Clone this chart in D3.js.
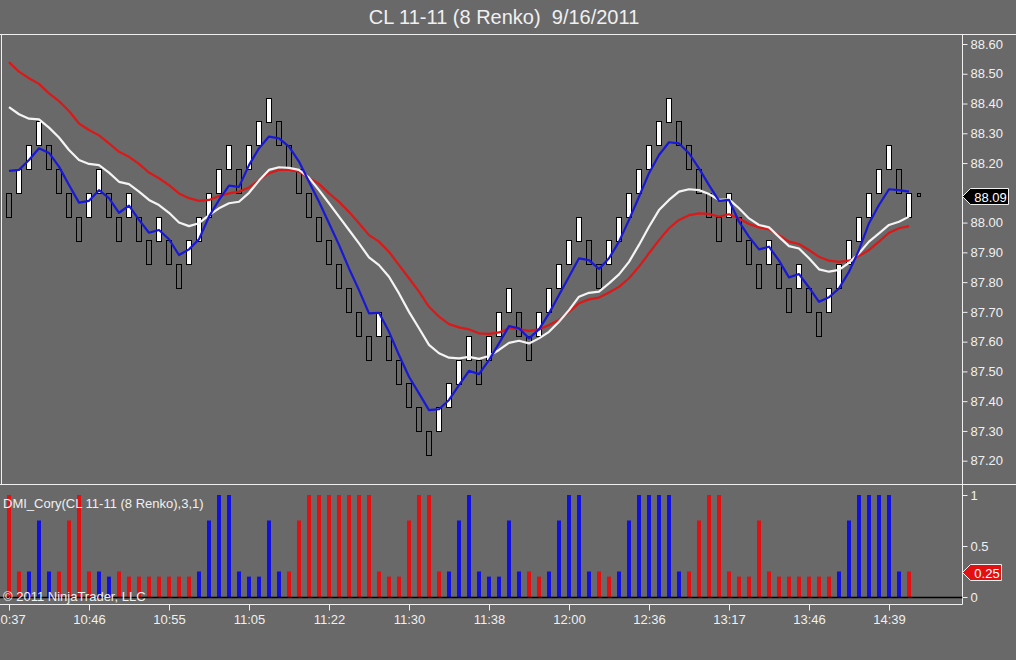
<!DOCTYPE html>
<html>
<head>
<meta charset="utf-8">
<script src="https://cdn.jsdelivr.net/npm/d3@7"></script>
<style>
    body { margin: 0; background: #696969; overflow: hidden; }
    text { font-family: "Liberation Sans", Arial, sans-serif; fill: #f0f0f0; }
</style>
</head>
<body>
<div id="chart"></div>
<script>
const chartTitle = 'CL 11-11 (8 Renko)  9/16/2011';
const indicatorName = 'DMI_Cory(CL 11-11 (8 Renko),3,1)';
const copyright = '\u00a9 2011 NinjaTrader, LLC';

// x axis: one label every 8 bricks
const timeTickIdx = [0, 8, 16, 24, 32, 40, 48, 56, 64, 72, 80, 88];
const timeLabels = ['10:37', '10:46', '10:55', '11:05', '11:22', '11:30', '11:38', '12:00', '12:36', '13:17', '13:46', '14:39'];

const priceTicks = [87.2, 87.3, 87.4, 87.5, 87.6, 87.7, 87.8, 87.9, 88.0, 88.1, 88.2, 88.3, 88.4, 88.5, 88.6];
const dmiTicks = [0, 0.5, 1];

// renko bricks
const opens = [
    88.10, 88.10, 88.18, 88.26, 88.26, 88.18, 88.10, 88.02, 88.02, 88.10,
    88.10, 88.02, 88.02, 88.02, 87.94, 87.94, 87.94, 87.86, 87.86, 87.94,
    88.02, 88.10, 88.18, 88.18, 88.18, 88.26, 88.34, 88.34, 88.26, 88.18,
    88.10, 88.02, 87.94, 87.86, 87.78, 87.70, 87.62, 87.62, 87.62, 87.54,
    87.46, 87.38, 87.30, 87.30, 87.38, 87.46, 87.54, 87.54, 87.54, 87.62,
    87.70, 87.70, 87.62, 87.62, 87.70, 87.78, 87.86, 87.94, 87.94, 87.86,
    87.86, 87.94, 88.02, 88.10, 88.18, 88.26, 88.34, 88.34, 88.26, 88.18,
    88.10, 88.02, 88.02, 88.02, 87.94, 87.86, 87.86, 87.86, 87.78, 87.78,
    87.78, 87.70, 87.70, 87.78, 87.86, 87.94, 88.02, 88.10, 88.18, 88.18,
    88.02
];
const closes = [
    88.02, 88.18, 88.26, 88.34, 88.18, 88.10, 88.02, 87.94, 88.10, 88.18,
    88.02, 87.94, 88.10, 87.94, 87.86, 88.02, 87.86, 87.78, 87.94, 88.02,
    88.10, 88.18, 88.26, 88.10, 88.26, 88.34, 88.42, 88.26, 88.18, 88.10,
    88.02, 87.94, 87.86, 87.78, 87.70, 87.62, 87.54, 87.70, 87.54, 87.46,
    87.38, 87.30, 87.22, 87.38, 87.46, 87.54, 87.62, 87.46, 87.62, 87.70,
    87.78, 87.62, 87.54, 87.70, 87.78, 87.86, 87.94, 88.02, 87.86, 87.78,
    87.94, 88.02, 88.10, 88.18, 88.26, 88.34, 88.42, 88.26, 88.18, 88.10,
    88.02, 87.94, 88.10, 87.94, 87.86, 87.78, 87.94, 87.78, 87.70, 87.86,
    87.70, 87.62, 87.78, 87.86, 87.94, 88.02, 88.10, 88.18, 88.26, 88.10,
    88.10
];
// brick still forming
const formingOpen = 88.10;
const formingClose = 88.09;
const lastPrice = 88.09;

// moving averages
const maFast = [
    88.174, 88.177, 88.210, 88.250, 88.234, 88.188, 88.126, 88.067, 88.073, 88.109,
    88.082, 88.033, 88.057, 88.009, 87.966, 87.975, 87.944, 87.891, 87.910, 87.944,
    88.020, 88.076, 88.124, 88.120, 88.193, 88.250, 88.289, 88.283, 88.255, 88.205,
    88.137, 88.070, 87.998, 87.925, 87.846, 87.773, 87.695, 87.697, 87.633, 87.555,
    87.482, 87.426, 87.370, 87.373, 87.404, 87.454, 87.502, 87.491, 87.538, 87.594,
    87.652, 87.645, 87.611, 87.641, 87.695, 87.757, 87.818, 87.880, 87.874, 87.844,
    87.880, 87.936, 88.009, 88.087, 88.166, 88.227, 88.270, 88.266, 88.233, 88.182,
    88.126, 88.073, 88.076, 88.003, 87.952, 87.910, 87.919, 87.872, 87.816, 87.827,
    87.782, 87.734, 87.749, 87.779, 87.835, 87.908, 87.998, 88.059, 88.112, 88.109,
    88.104
];
const maMid = [
    88.388, 88.364, 88.349, 88.347, 88.319, 88.286, 88.244, 88.210, 88.197, 88.193,
    88.168, 88.137, 88.129, 88.104, 88.076, 88.059, 88.033, 88.000, 87.988, 87.998,
    88.025, 88.048, 88.065, 88.070, 88.100, 88.141, 88.177, 88.186, 88.184, 88.177,
    88.151, 88.109, 88.065, 88.020, 87.975, 87.930, 87.883, 87.857, 87.818, 87.762,
    87.700, 87.645, 87.589, 87.561, 87.546, 87.544, 87.549, 87.542, 87.552, 87.572,
    87.596, 87.603, 87.594, 87.611, 87.633, 87.667, 87.706, 87.751, 87.764, 87.768,
    87.796, 87.826, 87.868, 87.925, 87.986, 88.042, 88.076, 88.104, 88.112, 88.109,
    88.096, 88.076, 88.078, 88.048, 88.014, 87.992, 87.984, 87.952, 87.921, 87.913,
    87.880, 87.843, 87.835, 87.841, 87.865, 87.897, 87.936, 87.964, 87.992, 88.003,
    88.020
];
const maSlow = [
    88.539, 88.507, 88.485, 88.466, 88.434, 88.408, 88.375, 88.333, 88.311, 88.293,
    88.266, 88.238, 88.221, 88.197, 88.168, 88.149, 88.126, 88.098, 88.082, 88.073,
    88.076, 88.089, 88.098, 88.104, 88.118, 88.143, 88.166, 88.177, 88.177, 88.171,
    88.150, 88.130, 88.098, 88.070, 88.036, 87.998, 87.958, 87.936, 87.902, 87.857,
    87.813, 87.768, 87.717, 87.684, 87.659, 87.648, 87.641, 87.628, 87.626, 87.631,
    87.645, 87.642, 87.636, 87.641, 87.656, 87.673, 87.700, 87.729, 87.742, 87.748,
    87.765, 87.784, 87.813, 87.852, 87.897, 87.941, 87.981, 88.009, 88.025, 88.031,
    88.029, 88.020, 88.028, 88.014, 87.995, 87.984, 87.977, 87.958, 87.936, 87.928,
    87.908, 87.885, 87.872, 87.868, 87.872, 87.888, 87.908, 87.936, 87.966, 87.981,
    87.988
];

// DMI_Cory histogram
const dmiValues = [
    1, 0.25, 0.25, 0.75, 0.25, 0.25, 0.75, 1, 0.25, 0.25,
    0.2, 0.25, 0.2, 0.2, 0.2, 0.2, 0.2, 0.2, 0.2, 0.25,
    0.75, 1, 1, 0.25, 0.2, 0.2, 0.75, 0.25, 0.25, 0.75,
    1, 1, 1, 1, 1, 1, 1, 0.25, 0.2, 0.2,
    0.75, 1, 1, 0.25, 0.25, 0.75, 1, 0.25, 0.2, 0.2,
    0.75, 0.25, 0.25, 0.2, 0.25, 0.75, 1, 1, 0.25, 0.25,
    0.2, 0.25, 0.75, 1, 1, 1, 1, 0.25, 0.25, 0.75,
    1, 1, 0.25, 0.2, 0.2, 0.75, 0.25, 0.2, 0.2, 0.2,
    0.2, 0.2, 0.2, 0.25, 0.75, 1, 1, 1, 1, 0.25,
    0.25
];
const dmiSides = ('rrbbbrrrrb' + 'brrrrrrrrb' + 'bbbbbbbbrr' + 'rrrrrrrrrr' + 'rrrrbbbbbb' +
    'bbrrbbbbbr' + 'rbbbbbbbrr' + 'rrrrrrrrrr' + 'rrrbbbbbbb' + 'r').split('');
const dmiLast = 0.25;

const colors = { bg: '#696969', frame: '#f0f0f0', red: '#e21010', blue: '#1010e0', lineRed: '#dc1818', lineBlue: '#1818d8', lineWhite: '#f4f4f4' };

window.RenkoChart = {
    create() {
        const W = 1016, H = 660;
        const svg = d3.select('#chart').append('svg').attr('width', W).attr('height', H);
        svg.append('rect').attr('width', W).attr('height', H).attr('fill', colors.bg);

        const box = { left: 1.5, right: 962.5, top: 34.5, mid: 484.5, bottom: 604.5 };
        const scales = {
            x: d3.scaleLinear().domain([0, 91]).range([9, 919]),
            y: d3.scaleLinear().domain([87.2, 88.6]).range([460.7, 44]),
            yDmi: d3.scaleLinear().domain([0, 1]).range([597, 495])
        };

        this.createFrame(svg, box, W);
        this.createBricks(svg, scales);
        this.createLines(svg, scales);
        this.createHistogram(svg, scales, box);
        this.createAxes(svg, scales, box);
        this.createTags(svg, scales, box);

        svg.append('text').attr('x', 504).attr('y', 24).style('text-anchor', 'middle')
            .style('font-size', '20px').style('white-space', 'pre').text(chartTitle);
        svg.append('text').attr('x', 3).attr('y', 508).style('font-size', '13px').text(indicatorName);
        svg.append('text').attr('x', 3).attr('y', 601).style('font-size', '13px').text(copyright);
    },

    createFrame(svg, box, W) {
        const f = svg.append('g').attr('stroke', colors.frame).attr('stroke-width', 1);
        f.append('line').attr('x1', 0).attr('x2', W).attr('y1', box.top).attr('y2', box.top);
        f.append('line').attr('x1', 0).attr('x2', W).attr('y1', box.mid).attr('y2', box.mid);
        f.append('line').attr('x1', 0).attr('x2', box.right).attr('y1', box.bottom).attr('y2', box.bottom);
        f.append('line').attr('x1', box.left).attr('x2', box.left).attr('y1', box.top).attr('y2', box.mid);
        f.append('line').attr('x1', box.right).attr('x2', box.right).attr('y1', box.top).attr('y2', box.bottom);
    },

    createBricks(svg, scales) {
        const g = svg.append('g');
        const data = opens.map((o, i) => ({ i, o, c: closes[i] }));
        g.selectAll('rect.brick').data(data).enter().append('rect')
            .attr('class', 'brick')
            .attr('x', d => Math.round(scales.x(d.i) - 3) + 0.5)
            .attr('y', d => Math.round(scales.y(Math.max(d.o, d.c))) + 0.5)
            .attr('width', 5)
            .attr('height', d => Math.round(Math.abs(scales.y(d.o) - scales.y(d.c))))
            .attr('fill', d => d.c > d.o ? '#ffffff' : 'none')
            .attr('stroke', '#000')
            .attr('stroke-width', 1);

        // forming brick
        g.append('rect')
            .attr('x', Math.round(scales.x(opens.length) - 2) + 0.5)
            .attr('y', Math.round(scales.y(formingOpen)) + 0.5)
            .attr('width', 3)
            .attr('height', Math.max(2, Math.round(scales.y(formingClose) - scales.y(formingOpen))))
            .attr('fill', 'none').attr('stroke', '#000');
    },

    createLines(svg, scales) {
        const line = d3.line().x((d, i) => scales.x(i)).y(d => scales.y(d));
        [[maSlow, colors.lineRed], [maMid, colors.lineWhite], [maFast, colors.lineBlue]].forEach(([vals, col]) => {
            svg.append('path').datum(vals)
                .attr('fill', 'none').attr('stroke', col).attr('stroke-width', 2.2)
                .attr('stroke-linejoin', 'round').attr('d', line);
        });
    },

    createHistogram(svg, scales, box) {
        const g = svg.append('g');
        g.selectAll('rect').data(dmiValues).enter().append('rect')
            .attr('x', (d, i) => scales.x(i) - 2)
            .attr('y', d => scales.yDmi(d))
            .attr('width', 4)
            .attr('height', d => scales.yDmi(0) - scales.yDmi(d))
            .attr('fill', (d, i) => dmiSides[i] === 'r' ? colors.red : colors.blue);
        g.append('line').attr('x1', 0).attr('x2', box.right)
            .attr('y1', scales.yDmi(0) + 0.5).attr('y2', scales.yDmi(0) + 0.5)
            .attr('stroke', '#000').attr('stroke-width', 1.5);
    },

    createAxes(svg, scales, box) {
        const style = g => {
            g.select('.domain').remove();
            g.selectAll('line').attr('stroke', colors.frame);
            g.selectAll('text').style('font-size', '13px').attr('fill', '#f0f0f0')
                .style('font-family', '"Liberation Sans", Arial, sans-serif');
        };
        // the last-price tag hides the tick label it sits on
        const tagY = scales.y(lastPrice);
        const shownPriceTicks = priceTicks.filter(p => Math.abs(scales.y(p) - tagY) > 12);
        svg.append('g').attr('transform', `translate(${box.right},0)`)
            .call(d3.axisRight(scales.y).tickValues(shownPriceTicks).tickSize(5).tickPadding(3).tickFormat(d3.format('.2f')))
            .call(style);
        svg.append('g').attr('transform', `translate(${box.right},0)`)
            .call(d3.axisRight(scales.yDmi).tickValues(dmiTicks).tickSize(5).tickPadding(3).tickFormat(d3.format('~g')))
            .call(style);
        svg.append('g').attr('transform', `translate(0,${box.bottom})`)
            .call(d3.axisBottom(scales.x).tickValues(timeTickIdx).tickSize(6).tickPadding(4)
                .tickFormat((d, i) => timeLabels[i]))
            .call(style);
    },

    createTags(svg, scales, box) {
        const tag = (yv, fill, stroke, label, w) => {
            const g = svg.append('g').attr('transform', `translate(${box.right},${Math.round(yv) + 0.5})`);
            g.append('path').attr('d', `M0,0 L8,-8 L${w},-8 L${w},8 L8,8 Z`)
                .attr('fill', fill).attr('stroke', stroke).attr('stroke-width', 1);
            g.append('text').attr('x', (w + 8) / 2 + 1).attr('y', 5).style('text-anchor', 'middle')
                .style('font-size', '13px').style('fill', '#fff').text(label);
        };
        tag(scales.y(lastPrice), '#000', '#f0f0f0', d3.format('.2f')(lastPrice), 46);
        tag(scales.yDmi(dmiLast), colors.red, '#f0f0f0', d3.format('.2f')(dmiLast), 39);
    }
};

RenkoChart.create();
</script>
</body>
</html>
